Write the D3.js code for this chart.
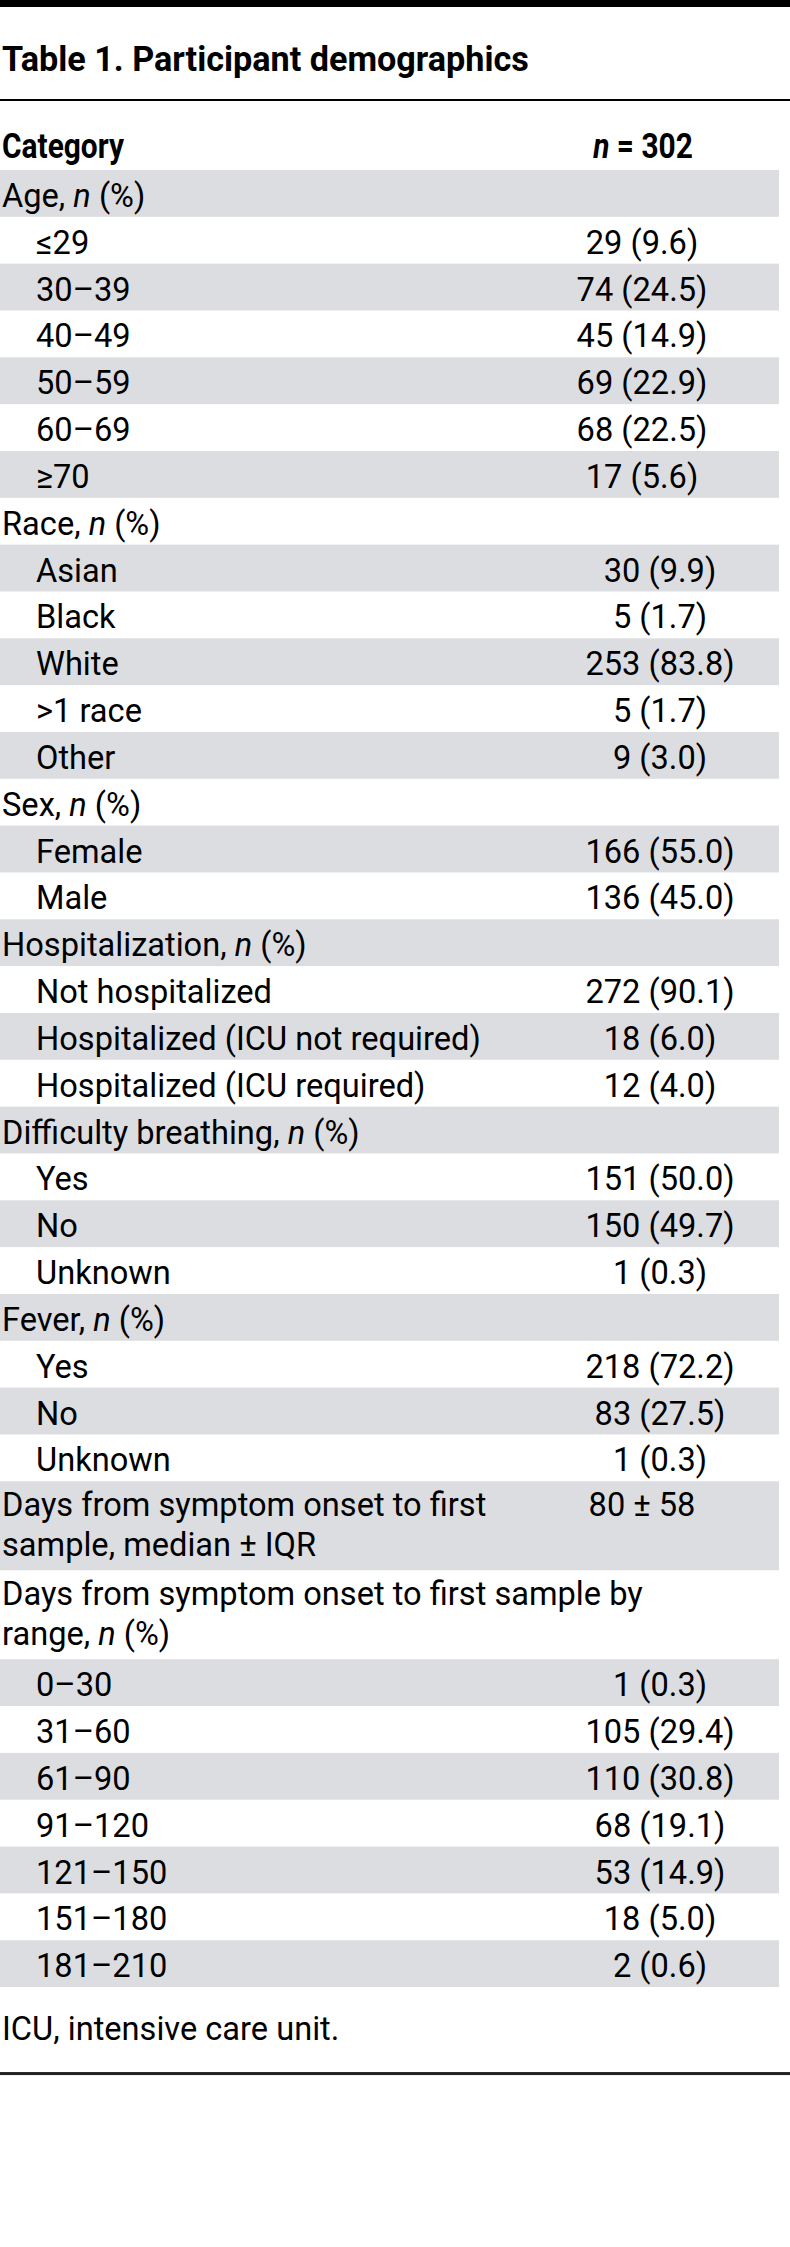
<!DOCTYPE html>
<html><head><meta charset="utf-8">
<script src="https://cdn.jsdelivr.net/npm/d3@7"></script>
<style>html,body{margin:0;padding:0;background:#fff}</style>
</head><body><div id="chart"></div>
<script>
// ---------- data ----------
const tableTitle = "Table 1. Participant demographics";
const headerCategory = "Category";
const headerN = 302;
const footnote = "ICU, intensive care unit.";

const ageCategories = ["≤29", "30–39", "40–49", "50–59", "60–69", "≥70"];
const ageCounts = [29, 74, 45, 69, 68, 17];
const agePercents = [9.6, 24.5, 14.9, 22.9, 22.5, 5.6];

const raceCategories = ["Asian", "Black", "White", ">1 race", "Other"];
const raceCounts = [30, 5, 253, 5, 9];
const racePercents = [9.9, 1.7, 83.8, 1.7, 3.0];

const sexCategories = ["Female", "Male"];
const sexCounts = [166, 136];
const sexPercents = [55.0, 45.0];

const hospCategories = ["Not hospitalized", "Hospitalized (ICU not required)", "Hospitalized (ICU required)"];
const hospCounts = [272, 18, 12];
const hospPercents = [90.1, 6.0, 4.0];

const breathCategories = ["Yes", "No", "Unknown"];
const breathCounts = [151, 150, 1];
const breathPercents = [50.0, 49.7, 0.3];

const feverCategories = ["Yes", "No", "Unknown"];
const feverCounts = [218, 83, 1];
const feverPercents = [72.2, 27.5, 0.3];

const onsetMedian = 80;
const onsetIQR = 58;

const rangeCategories = ["0–30", "31–60", "61–90", "91–120", "121–150", "151–180", "181–210"];
const rangeCounts = [1, 105, 110, 68, 53, 18, 2];
const rangePercents = [0.3, 29.4, 30.8, 19.1, 14.9, 5.0, 0.6];

// ---------- layout ----------
const W = 790, H = 2247;
const FONT = "Roboto, 'Noto Sans', sans-serif";
const FS = 34;
const STRIPE = "#dcdde0";
const fmt = d3.format(".1f");
const cell = (c, p) => `${c} (${fmt(p)})`;

const groups = [
  { lines: ["Age, *n* (%)"], cats: ageCategories, counts: ageCounts, pcts: agePercents, shift: true },
  { lines: ["Race, *n* (%)"], cats: raceCategories, counts: raceCounts, pcts: racePercents },
  { lines: ["Sex, *n* (%)"], cats: sexCategories, counts: sexCounts, pcts: sexPercents },
  { lines: ["Hospitalization, *n* (%)"], cats: hospCategories, counts: hospCounts, pcts: hospPercents },
  { lines: ["Difficulty breathing, *n* (%)"], cats: breathCategories, counts: breathCounts, pcts: breathPercents },
  { lines: ["Fever, *n* (%)"], cats: feverCategories, counts: feverCounts, pcts: feverPercents },
  { lines: ["Days from symptom onset to first", "sample, median ± IQR"], value: `${onsetMedian} ± ${onsetIQR}`, cats: [], shift: true },
  { lines: ["Days from symptom onset to first sample by", "range, *n* (%)"], cats: rangeCategories, counts: rangeCounts, pcts: rangePercents }
];

const rows = [];
groups.forEach(g => {
  rows.push({ kind: "group", lines: g.lines, value: g.value || null, shift: !!g.shift });
  g.cats.forEach((c, i) => rows.push({ kind: "item", lines: [c], value: cell(g.counts[i], g.pcts[i]), shift: !!g.shift }));
});

const SINGLE = 46.83, DOUBLE = 89;
const heights = rows.map(r => r.lines.length > 1 ? DOUBLE : SINGLE);
const tops = [0, ...d3.cumsum(heights)];
const y = d3.scaleLinear().domain([0, tops[tops.length - 1]]).range([170, 170 + tops[tops.length - 1]]);
const tableBottom = y(tops[tops.length - 1]);

const svg = d3.select("#chart").append("svg").attr("width", W).attr("height", H)
  .style("font-family", FONT).style("font-size", FS + "px");
svg.append("rect").attr("width", W).attr("height", H).attr("fill", "#fff");

// measure for condensed widths
function measure(str, weight, size) {
  const t = svg.append("text").attr("font-weight", weight).style("font-size", size + "px").text(str);
  const w = t.node().getComputedTextLength(); t.remove(); return w;
}
const sxReg = 445 / measure("Hospitalized (ICU not required)", 400, FS);
const TITLE_FS = 35, HEAD_FS = 35;
const sxTitle = 527 / measure(tableTitle, 700, TITLE_FS);
const sxHead = 122 / measure(headerCategory, 700, HEAD_FS);

function addText(parent, x, yy, str, opt) {
  const t = parent.append("text")
    .attr("transform", `translate(${x},${yy}) scale(${opt.sx},1)`)
    .attr("text-anchor", opt.anchor || "start")
    .attr("font-weight", opt.bold ? 700 : 400)
    .style("font-size", (opt.size || FS) + "px")
    .attr("fill", "#000");
  str.split("*").forEach((s, i) => {
    if (!s) return;
    t.append("tspan").attr("font-style", i % 2 ? "italic" : null).text(s);
  });
  return t;
}

// rules
svg.append("rect").attr("x", 0).attr("y", 0).attr("width", W).attr("height", 7).attr("fill", "#000");
svg.append("rect").attr("x", 0).attr("y", 99).attr("width", W).attr("height", 2).attr("fill", "#000");

// title and header
addText(svg, 2, 71, tableTitle, { sx: sxTitle, bold: true, size: TITLE_FS });
addText(svg, 2, 158, headerCategory, { sx: sxHead, bold: true, size: HEAD_FS });
addText(svg, 643, 158, `*n* = ${headerN}`, { sx: sxHead, bold: true, anchor: "middle", size: HEAD_FS });

// rows
const rowG = svg.append("g").selectAll("g").data(rows).join("g")
  .attr("transform", (d, i) => `translate(0,${y(tops[i])})`);
rowG.filter((d, i) => i % 2 === 0).append("rect")
  .attr("x", 0).attr("y", 0).attr("width", 779).attr("height", d => heights[rows.indexOf(d)])
  .attr("fill", STRIPE);
rowG.each(function (d) {
  const g = d3.select(this);
  const x0 = d.kind === "group" ? 2 : 36;
  const b0 = d.lines.length > 1 ? 35 : 37;
  d.lines.forEach((ln, j) => addText(g, x0, b0 + j * 40, ln, { sx: sxReg }));
  if (d.value) addText(g, d.shift ? 642 : 660, b0, d.value, { sx: sxReg, anchor: "middle" });
});

// footnote and bottom rule
addText(svg, 2, tableBottom + 53, footnote, { sx: sxReg });
svg.append("rect").attr("x", 0).attr("y", tableBottom + 85).attr("width", W).attr("height", 3).attr("fill", "#222");
</script></body></html>
